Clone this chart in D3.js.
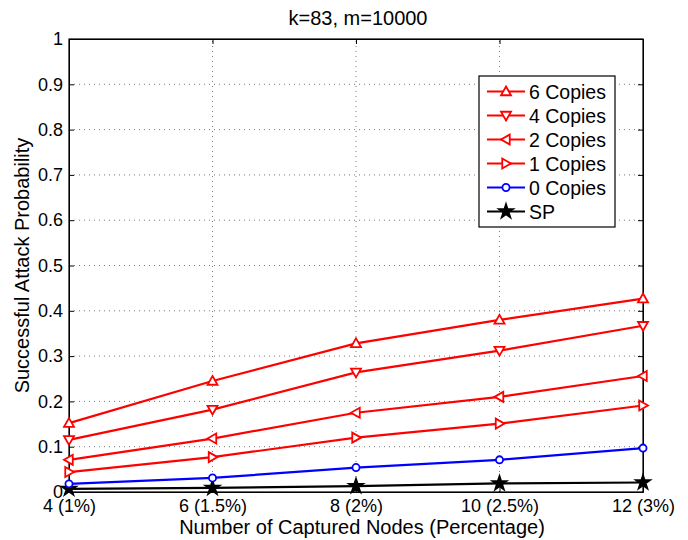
<!DOCTYPE html>
<html>
<head>
<meta charset="utf-8">
<script src="https://cdn.jsdelivr.net/npm/d3@7"></script>
<style>
  body { margin: 0; background: #fff; }
  svg { font-family: "Liberation Sans", Arial, sans-serif; }
</style>
</head>
<body>
<div id="chart"></div>
<script>
// ============================
// Data
// ============================
const xValues = [4, 6, 8, 10, 12];
const xTickLabels = ["4 (1%)", "6 (1.5%)", "8 (2%)", "10 (2.5%)", "12 (3%)"];
const yTicks = [0, 0.1, 0.2, 0.3, 0.4, 0.5, 0.6, 0.7, 0.8, 0.9, 1];

const seriesNames = ["6 Copies", "4 Copies", "2 Copies", "1 Copies", "0 Copies", "SP"];
const copies6 = [0.152, 0.245, 0.328, 0.380, 0.427];
const copies4 = [0.115, 0.182, 0.264, 0.312, 0.367];
const copies2 = [0.071, 0.118, 0.175, 0.210, 0.256];
const copies1 = [0.044, 0.077, 0.120, 0.151, 0.191];
const copies0 = [0.018, 0.031, 0.054, 0.071, 0.097];
const spValues = [0.007, 0.009, 0.013, 0.019, 0.021];

const width = 688, height = 540;
const margin = {top: 39, right: 45, bottom: 48, left: 69};

const series = [
  {name: seriesNames[0], values: copies6, color: "#ff0000", marker: "up"},
  {name: seriesNames[1], values: copies4, color: "#ff0000", marker: "down"},
  {name: seriesNames[2], values: copies2, color: "#ff0000", marker: "left"},
  {name: seriesNames[3], values: copies1, color: "#ff0000", marker: "right"},
  {name: seriesNames[4], values: copies0, color: "#0000ff", marker: "circle"},
  {name: seriesNames[5], values: spValues, color: "#000000", marker: "star"}
];

// ============================
// Scales
// ============================
const xscale = d3.scaleLinear().domain([4, 12]).range([margin.left, width - margin.right]);
const yscale = d3.scaleLinear().domain([0, 1]).range([height - margin.bottom, margin.top]);

const svg = d3.select("#chart").append("svg")
  .attr("width", width).attr("height", height);

const x0 = xscale.range()[0], x1 = xscale.range()[1];
const y0 = yscale.range()[0], y1 = yscale.range()[1];

// dotted grid
const grid = svg.append("g")
  .attr("stroke", "#555")
  .attr("stroke-width", 0.8)
  .attr("stroke-dasharray", "1,4");
grid.selectAll(".gy").data(yTicks.slice(1, -1)).join("line")
  .attr("x1", x0).attr("x2", x1)
  .attr("y1", d => yscale(d)).attr("y2", d => yscale(d));
grid.selectAll(".gx").data(xValues.slice(1, -1)).join("line")
  .attr("y1", y0).attr("y2", y1)
  .attr("x1", d => xscale(d)).attr("x2", d => xscale(d));

// axes (ticks inward, MATLAB style)
const tickLen = 5;
svg.append("g")
  .attr("transform", `translate(0,${y0})`)
  .call(d3.axisBottom(xscale).tickValues(xValues)
    .tickFormat((d, i) => xTickLabels[i]).tickSizeInner(-tickLen).tickSizeOuter(0).tickPadding(7))
  .call(g => g.selectAll("text").attr("font-size", 18).attr("fill", "#000"));

svg.append("g")
  .attr("transform", `translate(${x0},0)`)
  .call(d3.axisLeft(yscale).tickValues(yTicks)
    .tickFormat(d3.format("~g")).tickSizeInner(-tickLen).tickSizeOuter(0).tickPadding(6))
  .call(g => g.selectAll("text").attr("font-size", 18).attr("fill", "#000"));

svg.append("g")
  .attr("transform", `translate(0,${y1})`)
  .call(d3.axisTop(xscale).tickValues(xValues).tickFormat("").tickSizeInner(-tickLen).tickSizeOuter(0));

svg.append("g")
  .attr("transform", `translate(${x1},0)`)
  .call(d3.axisRight(yscale).tickValues(yTicks).tickFormat("").tickSizeInner(-tickLen).tickSizeOuter(0));

svg.selectAll(".domain").attr("stroke", "#000").attr("stroke-width", 1);
svg.selectAll(".tick line").attr("stroke", "#000");

svg.append("rect")
  .attr("x", x0).attr("y", y1)
  .attr("width", x1 - x0).attr("height", y0 - y1)
  .attr("fill", "none").attr("stroke", "#000").attr("stroke-width", 1.2);

// ============================
// Markers
// ============================
function markerPath(type) {
  const s = 5;
  if (type === "up") return `M0,${-s}L${s},${s * 0.75}L${-s},${s * 0.75}Z`;
  if (type === "down") return `M0,${s}L${s},${-s * 0.75}L${-s},${-s * 0.75}Z`;
  if (type === "left") return `M${-s},0L${s * 0.75},${-s}L${s * 0.75},${s}Z`;
  if (type === "right") return `M${s},0L${-s * 0.75},${-s}L${-s * 0.75},${s}Z`;
  if (type === "circle") return d3.symbol(d3.symbolCircle, 40)();
  return d3.symbol(d3.symbolStar, 60)();
}

const line = d3.line()
  .x((d, i) => xscale(xValues[i]))
  .y(d => yscale(d));

const plot = svg.append("g");
series.slice().reverse().forEach(s => {
  plot.append("path")
    .datum(s.values)
    .attr("fill", "none")
    .attr("stroke", s.color)
    .attr("stroke-width", 2.2)
    .attr("d", line);
  plot.selectAll(null).data(s.values).join("path")
    .attr("transform", (d, i) => `translate(${xscale(xValues[i])},${yscale(d)})`)
    .attr("d", markerPath(s.marker))
    .attr("fill", s.marker === "star" ? s.color : "#fff")
    .attr("stroke", s.color)
    .attr("stroke-width", 1.8);
});

// ============================
// Labels
// ============================
svg.append("text")
  .attr("x", 358).attr("y", 25)
  .attr("text-anchor", "middle")
  .attr("font-size", 20)
  .text("k=83, m=10000");

svg.append("text")
  .attr("x", 362).attr("y", 534)
  .attr("text-anchor", "middle")
  .attr("font-size", 20)
  .text("Number of Captured Nodes (Percentage)");

svg.append("text")
  .attr("transform", `translate(29,${(y0 + y1) / 2}) rotate(-90)`)
  .attr("text-anchor", "middle")
  .attr("font-size", 20)
  .text("Successful Attack Probability");

// ============================
// Legend
// ============================
const legend = svg.append("g").attr("transform", "translate(479,76)");
legend.append("rect")
  .attr("width", 136).attr("height", 151)
  .attr("fill", "#fff").attr("stroke", "#000").attr("stroke-width", 1.2);

series.forEach((s, i) => {
  const ly = 15.5 + i * 24;
  const row = legend.append("g").attr("transform", `translate(0,${ly})`);
  row.append("line")
    .attr("x1", 8).attr("x2", 46)
    .attr("stroke", s.color).attr("stroke-width", 2.2);
  row.append("path")
    .attr("transform", "translate(27,0)")
    .attr("d", markerPath(s.marker))
    .attr("fill", s.marker === "star" ? s.color : "#fff")
    .attr("stroke", s.color)
    .attr("stroke-width", 1.8);
  row.append("text")
    .attr("x", 50).attr("y", 7.5)
    .attr("font-size", 19.5)
    .text(s.name);
});
</script>
</body>
</html>
